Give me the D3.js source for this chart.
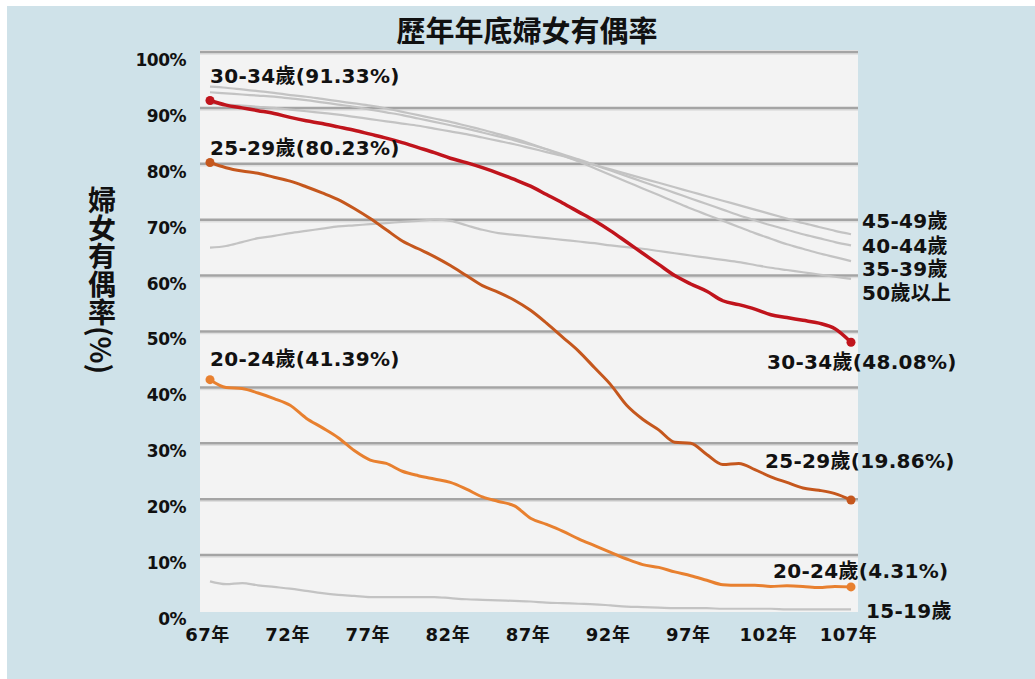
<!DOCTYPE html>
<html>
<head>
<meta charset="utf-8">
<script src="https://cdn.jsdelivr.net/npm/d3@7"></script>
<style>
  body { margin: 0; background: #ffffff; }
  svg { display: block; }
</style>
</head>
<body>
<div id="chart"></div>
<script>
// years 67..107 (民國)
var years = d3.range(67, 108);
var xTicks = [67, 72, 77, 82, 87, 92, 97, 102, 107];
var yTicks = [0, 10, 20, 30, 40, 50, 60, 70, 80, 90, 100];

var age1519 = [5.3, 4.8, 5.0, 4.6, 4.3, 4.0, 3.6, 3.2, 2.9, 2.7, 2.5, 2.5, 2.5, 2.5, 2.5, 2.3, 2.1, 2.0, 1.9, 1.8, 1.7,
  1.5, 1.4, 1.3, 1.2, 1.0, 0.8, 0.7, 0.6, 0.5, 0.5, 0.5, 0.4, 0.4, 0.4, 0.4, 0.3, 0.3, 0.3, 0.3, 0.3];
var age2024 = [41.39, 40.0, 39.8, 39.0, 38.0, 36.8, 34.5, 32.8, 31.0, 28.7, 27.0, 26.4, 25.0, 24.2, 23.6, 23.0, 21.8,
  20.4, 19.6, 18.8, 16.6, 15.5, 14.3, 12.9, 11.7, 10.5, 9.3, 8.3, 7.8, 7.0, 6.3, 5.5, 4.7, 4.6, 4.6, 4.4, 4.5, 4.4,
  4.2, 4.4, 4.31];
var age2529 = [80.23, 79.3, 78.7, 78.3, 77.6, 76.9, 75.9, 74.8, 73.6, 72.0, 70.2, 68.2, 66.2, 64.8, 63.4, 61.8, 60.0,
  58.2, 57.0, 55.6, 53.8, 51.5, 49.0, 46.5, 43.5, 40.5, 36.8, 34.3, 32.4, 30.2, 30.0, 28.0, 26.2, 26.4, 25.3, 24.0,
  23.0, 22.0, 21.6, 21.0, 19.86];
var age3034 = [91.33, 90.5, 90.0, 89.5, 89.0, 88.3, 87.7, 87.2, 86.6, 86.0, 85.3, 84.6, 83.8, 82.9, 82.0, 81.0, 80.2,
  79.3, 78.3, 77.2, 76.0, 74.5, 73.0, 71.4, 69.8, 68.0, 66.0, 64.0, 62.0, 60.0, 58.5, 57.2, 55.5, 54.8, 54.0, 53.0,
  52.5, 52.0, 51.5, 50.5, 48.08];
var age3539 = [93.8, 93.6, 93.3, 93.0, 92.7, 92.3, 92.0, 91.6, 91.2, 90.8, 90.4, 89.9, 89.3, 88.7, 88.1, 87.5, 86.8,
  86.1, 85.3, 84.5, 83.6, 82.6, 81.5, 80.4, 79.2, 78.0, 76.8, 75.6, 74.4, 73.2, 72.0, 70.9, 69.8, 68.7, 67.6, 66.6,
  65.6, 64.8, 64.0, 63.3, 62.6];
var age4044 = [92.8, 92.6, 92.4, 92.2, 92.0, 91.7, 91.4, 91.0, 90.6, 90.2, 89.7, 89.2, 88.7, 88.1, 87.5, 86.9, 86.3,
  85.6, 84.9, 84.2, 83.4, 82.6, 81.7, 80.8, 79.8, 78.8, 77.8, 76.8, 75.8, 74.8, 73.8, 72.8, 71.8, 70.8, 69.9, 69.0,
  68.2, 67.4, 66.7, 66.0, 65.4];
var age4549 = [90.8, 90.6, 90.4, 90.2, 90.0, 89.7, 89.4, 89.1, 88.8, 88.4, 88.0, 87.6, 87.2, 86.8, 86.3, 85.8, 85.3,
  84.7, 84.1, 83.5, 82.8, 82.1, 81.4, 80.6, 79.8, 79.0, 78.2, 77.4, 76.6, 75.8, 75.0, 74.2, 73.4, 72.6, 71.8, 71.0,
  70.2, 69.4, 68.7, 68.0, 67.4];
var age50up = [65.0, 65.3, 66.0, 66.7, 67.1, 67.6, 68.0, 68.4, 68.8, 69.0, 69.2, 69.4, 69.6, 69.8, 70.0, 69.8, 69.0,
  68.2, 67.6, 67.3, 67.0, 66.7, 66.4, 66.1, 65.8, 65.4, 65.1, 64.8, 64.4, 64.0, 63.6, 63.2, 62.8, 62.4, 61.9, 61.4,
  61.0, 60.6, 60.2, 59.8, 59.4];

var W = 1035, H = 679;
var svg = d3.select("#chart").append("svg")
    .attr("width", W)
    .attr("height", H);

svg.append("rect")
    .attr("x", 7).attr("y", 6)
    .attr("width", W - 7).attr("height", H - 6)
    .attr("fill", "#cfe2e9");

var x = d3.scaleLinear().domain([67, 107]).range([210, 851]);
var y = d3.scaleLinear().domain([0, 100]).range([611, 52]);

// plot area
svg.append("rect")
    .attr("x", 200).attr("y", 50)
    .attr("width", 658).attr("height", 562)
    .attr("fill", "#f3f3f3");

// gridlines
var grid = svg.append("g");
yTicks.filter(function(d){ return d > 0; }).forEach(function(t){
    grid.append("line")
        .attr("x1", 200).attr("x2", 858)
        .attr("y1", y(t) + 2).attr("y2", y(t) + 2)
        .attr("stroke", "#dedede").attr("stroke-width", 1.5);
    grid.append("line")
        .attr("x1", 200).attr("x2", 858)
        .attr("y1", y(t)).attr("y2", y(t))
        .attr("stroke", "#a4a4a4").attr("stroke-width", 2.5);
});

// axes text
var yAxis = d3.axisLeft(y).tickValues(yTicks).tickSize(0).tickPadding(0)
    .tickFormat(function(d){ return d + "%"; });
var gy = svg.append("g").attr("transform", "translate(186,8)").call(yAxis);
gy.select(".domain").remove();
gy.selectAll("text")
    .attr("font-family", "DejaVu Sans")
    .attr("font-weight", "bold")
    .attr("font-size", 17)
    .attr("letter-spacing", -0.5)
    .attr("fill", "#111");

var xAxis = d3.axisBottom(x).tickValues(xTicks).tickSize(0).tickPadding(0)
    .tickFormat(function(d){ return d + "年"; });
var gx = svg.append("g").attr("transform", "translate(-3,628)").call(xAxis);
gx.select(".domain").remove();
gx.selectAll("text")
    .attr("font-family", "DejaVu Sans, Noto Sans CJK TC")
    .attr("font-weight", "bold")
    .attr("font-size", 18)
    .attr("letter-spacing", 0.5)
    .attr("fill", "#111");

// title
svg.append("text")
    .attr("x", 527).attr("y", 42)
    .attr("text-anchor", "middle")
    .attr("font-family", "Noto Sans CJK TC")
    .attr("font-weight", "bold")
    .attr("font-size", 29)
    .attr("fill", "#111")
    .text("歷年年底婦女有偶率");

// y title, vertical
svg.append("text")
    .attr("x", 102).attr("y", 280)
    .attr("text-anchor", "middle")
    .style("writing-mode", "vertical-rl")
    .attr("font-family", "Noto Sans CJK TC")
    .attr("font-weight", "bold")
    .attr("font-size", 28)
    .attr("fill", "#111")
    .text("婦女有偶率(%)");

// lines
var line = d3.line()
    .x(function(d, i){ return x(years[i]); })
    .y(function(d){ return y(d); })
    .curve(d3.curveMonotoneX);

var grays = [age1519, age50up, age3539, age4044, age4549];
grays.forEach(function(s){
    svg.append("path")
        .attr("d", line(s))
        .attr("fill", "none")
        .attr("stroke", "#c3c3c3")
        .attr("stroke-width", 2.2);
});

var colored = [
    {data: age2024, color: "#e8802f", w: 3},
    {data: age2529, color: "#c5571d", w: 3},
    {data: age3034, color: "#c0141c", w: 3.5}
];
colored.forEach(function(s){
    svg.append("path")
        .attr("d", line(s.data))
        .attr("fill", "none")
        .attr("stroke", s.color)
        .attr("stroke-width", s.w);
    [0, years.length - 1].forEach(function(i){
        svg.append("circle")
            .attr("cx", x(years[i]))
            .attr("cy", y(s.data[i]))
            .attr("r", 4.5)
            .attr("fill", s.color);
    });
});

// labels
var labels = [
    {t: "30-34歲(91.33%)", x: 210, y: 83},
    {t: "25-29歲(80.23%)", x: 210, y: 155},
    {t: "20-24歲(41.39%)", x: 210, y: 366},
    {t: "30-34歲(48.08%)", x: 767, y: 369},
    {t: "25-29歲(19.86%)", x: 765, y: 468},
    {t: "20-24歲(4.31%)", x: 773, y: 578},
    {t: "15-19歲", x: 866, y: 618},
    {t: "45-49歲", x: 862, y: 228},
    {t: "40-44歲", x: 862, y: 253},
    {t: "35-39歲", x: 862, y: 276},
    {t: "50歲以上", x: 862, y: 300}
];
svg.append("g").selectAll("text")
    .data(labels)
    .enter().append("text")
    .attr("x", function(d){ return d.x; })
    .attr("y", function(d){ return d.y; })
    .attr("font-family", "DejaVu Sans, Noto Sans CJK TC")
    .attr("font-weight", "bold")
    .attr("font-size", 20)
    .attr("letter-spacing", 0.3)
    .attr("fill", "#111")
    .text(function(d){ return d.t; });
</script>
</body>
</html>
